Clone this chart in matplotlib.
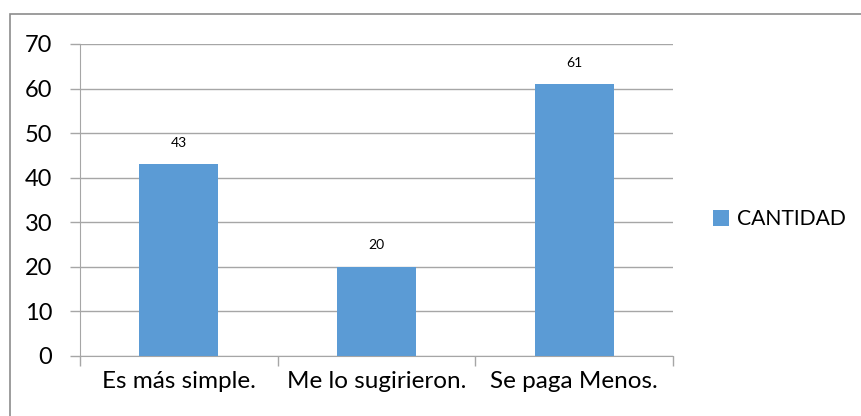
import matplotlib.pyplot as plt
from matplotlib.patches import Rectangle

plt.rcParams['font.family'] = ['Lato', 'DejaVu Sans']

# datos
categorias = ["Es más simple.", "Me lo sugirieron.", "Se paga Menos."]
cantidad = [43, 20, 61]
serie = "CANTIDAD"

fig = plt.figure(figsize=(8.62, 4.16), dpi=100)
ax = fig.add_axes([80 / 862, 1 - 356 / 416, (673 - 80) / 862, (356 - 44) / 416])

# marco del gráfico
fig.patches.append(Rectangle((10 / 862, -0.1), 1.1, 1 - 14 / 416 + 0.1,
                             transform=fig.transFigure, fill=False,
                             edgecolor="#8c8c8c", linewidth=1.2))

x = range(len(categorias))
barras = ax.bar(x, cantidad, width=0.4, color="#5b9bd5", label=serie, zorder=3)
for b, v in zip(barras, cantidad):
    ax.text(b.get_x() + b.get_width() / 2, v + 3.5, str(v),
            ha="center", va="bottom", fontsize=10)

ax.set_xlim(-0.5, len(categorias) - 0.5)
ax.set_ylim(0, 70)
ax.set_yticks(range(0, 71, 10))
ax.yaxis.grid(True, color="#a6a6a6", linewidth=1, zorder=0)

ax.set_xticks([i - 0.5 for i in range(len(categorias) + 1)], minor=True)
ax.set_xticks(list(x))
ax.set_xticklabels(categorias)
ax.tick_params(axis="x", which="major", length=0, pad=11, labelsize=17.5)
ax.tick_params(axis="x", which="minor", length=7, color="#a6a6a6", width=1)
ax.tick_params(axis="y", length=7, color="#a6a6a6", width=1, labelsize=17, pad=13)

for s in ["top", "right"]:
    ax.spines[s].set_visible(False)
ax.spines["left"].set_color("#a6a6a6")
ax.spines["bottom"].set_color("#a6a6a6")

fig.legend(handles=[barras], labels=[serie], loc="center left",
           bbox_to_anchor=(694 / 862, 1 - 219 / 416), frameon=False,
           fontsize=15.2, handlelength=0.78, handleheight=0.78, handletextpad=0.38)

plt.savefig("out.png", dpi=100)
